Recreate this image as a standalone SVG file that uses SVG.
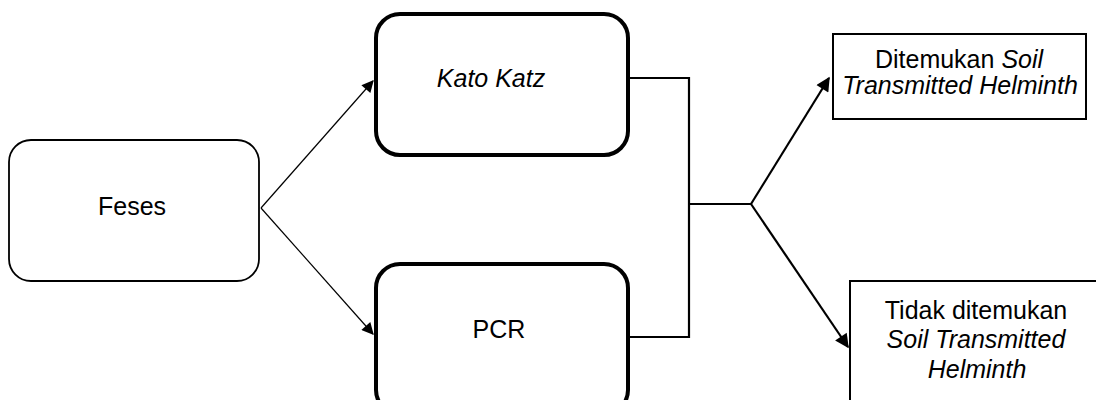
<svg xmlns="http://www.w3.org/2000/svg" width="1096" height="400" viewBox="0 0 1096 400">
<style>
text{font-family:"Liberation Sans",Arial,sans-serif;fill:#000}
.t{font-size:25px}
.it{font-style:italic}
.thin{fill:none;stroke:#000;stroke-width:1.2}
.mid{fill:none;stroke:#000;stroke-width:2.2}
.box{fill:#fff;stroke:#000}
</style>
<defs>
<marker id="ah" viewBox="0 0 10 10" refX="9" refY="5" markerWidth="14" markerHeight="12" markerUnits="userSpaceOnUse" orient="auto">
<path d="M0,0 L10,5 L0,10 z" fill="#000"/>
</marker>
<marker id="ah2" viewBox="0 0 10 10" refX="9" refY="5" markerWidth="16" markerHeight="14" markerUnits="userSpaceOnUse" orient="auto">
<path d="M0,0 L10,5 L0,10 z" fill="#000"/>
</marker>
</defs>
<rect width="1096" height="400" fill="#fff"/>
<g id="connectors">
<path class="thin" d="M261,208 L373,81" marker-end="url(#ah)"/>
<path class="thin" d="M261,208 L373,334" marker-end="url(#ah)"/>
<path class="mid" d="M628,78 H689 V337 H628"/>
<path class="mid" d="M689,204 H751"/>
<path class="mid" d="M751,204 L829,78" marker-end="url(#ah2)"/>
<path class="mid" d="M751,204 L848,347" marker-end="url(#ah2)"/>
</g>
<g id="feses">
<rect class="box" x="9" y="140" width="250" height="141" rx="22" stroke-width="1.8"/>
<text class="t" x="132" y="215" text-anchor="middle">Feses</text>
</g>
<g id="katokatz">
<rect class="box" x="376" y="14" width="252" height="141" rx="24" stroke-width="4"/>
<text class="t it" x="491" y="87" text-anchor="middle">Kato Katz</text>
</g>
<g id="pcr">
<rect class="box" x="376" y="264" width="252" height="150" rx="24" stroke-width="4"/>
<text class="t" x="499" y="338" text-anchor="middle">PCR</text>
</g>
<g id="ditemukan">
<rect class="box" x="833" y="34" width="253" height="85" stroke-width="2"/>
<text class="t" x="959" y="68" text-anchor="middle">Ditemukan <tspan class="it">Soil</tspan></text>
<text class="t it" x="960" y="94" text-anchor="middle">Transmitted Helminth</text>
</g>
<g id="tidak">
<rect class="box" x="850" y="281" width="260" height="140" stroke-width="2"/>
<text class="t" x="976" y="319" text-anchor="middle">Tidak ditemukan</text>
<text class="t it" x="976" y="348" text-anchor="middle">Soil Transmitted</text>
<text class="t it" x="977" y="378" text-anchor="middle">Helminth</text>
</g>
</svg>
